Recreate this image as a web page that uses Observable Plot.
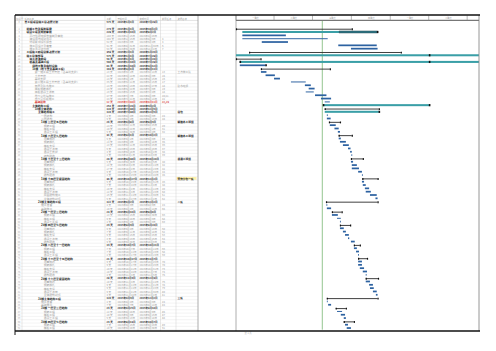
<!DOCTYPE html>
<html><head><meta charset="utf-8">
<script src="https://cdn.jsdelivr.net/npm/d3@7"></script>
<script src="https://cdn.jsdelivr.net/npm/@observablehq/plot@0.6"></script>
<style>
html,body{margin:0;padding:0;background:#fff;}
#chart{width:496px;height:351px;overflow:hidden}
</style></head><body><div id="chart"></div>
<script>
// ---------------- data ----------------
const taskNames = [
"某工程项目施工总进度计划","",
"前期工作及报批报建","项目立项及规划审批","可行性研究报告编制及审批","建设用地规划许可","环境影响评价报告","施工图设计及审查","施工许可证办理",
"工程施工阶段总体进度计划","施工总体部署","施工准备阶段","桩基及基础工程","场地平整及临时设施","1#楼（地下室及基础工程）",
"第一施工段土方开挖（含基坑支护）","土方开挖","基坑支护","第二施工段土方开挖（含基坑支护）","垫层及防水施工","底板钢筋绑扎","底板混凝土浇筑","地下室外墙施工","地下室顶板施工","基础验收",
"主体结构工程","1#楼主体结构","主体结构施工","一层结构","二层结构",
"1#楼 三层至五层结构","钢筋工程","模板工程","混凝土工程",
"1#楼 六层至九层结构","测量放线","钢筋绑扎","模板支设","混凝土浇筑","混凝土养护","结构验收",
"1#楼 十层至十三层结构","测量放线","钢筋绑扎","模板支设","混凝土浇筑","结构验收",
"1#楼 十四层至屋面结构","测量放线","钢筋绑扎","模板支设","混凝土浇筑","屋面结构施工","主体结构封顶",
"2#楼主体结构工程","施工准备","基础施工",
"2#楼 一层至三层结构","钢筋工程","模板工程","混凝土工程",
"2#楼 四层至七层结构","测量放线","钢筋绑扎","模板支设","混凝土浇筑","结构验收",
"2#楼 八层至十一层结构","钢筋工程","模板工程","混凝土工程",
"2#楼 十二层至十五层结构","测量放线","钢筋绑扎","模板支设","混凝土浇筑","结构验收",
"2#楼 十六层至屋面结构","测量放线","钢筋绑扎","模板支设","混凝土浇筑","主体结构封顶",
"3#楼主体结构工程","施工准备","基础施工",
"3#楼 一层至三层结构","钢筋工程","模板工程","混凝土工程",
"3#楼 四层至七层结构","钢筋工程","模板工程"
];
const taskLevels = [
0,0, 1,1,2,2,2,2,2, 1,1,2,2,3,3, 4,4,4,4,4,4,4,4,4,4, 3,4,5,6,6,
6,7,7,7, 6,7,7,7,7,7,7, 6,7,7,7,7,7, 6,7,7,7,7,7,7,
5,6,6, 6,7,7,7, 6,7,7,7,7,7, 6,7,7,7, 6,7,7,7,7,7, 6,7,7,7,7,7,
5,6,6, 6,7,7,7, 6,7,7
];
const taskTypes = [
"","", "summary","teal","task","thin","task","task","task",
"summary","teal","summary","teal","task","summary",
"task","task","task","thin","task","task","thin","task","task","thin",
"teal","summary","teal","task","task",
"summary","task","task","task",
"summary","task","task","task","task","task","task",
"summary","task","task","task","task","task",
"summary","task","task","task","task","task","task",
"summary","task","task",
"summary","task","thin","task",
"summary","task","task","task","task","task",
"summary","task","task","task",
"summary","task","task","task","task","task",
"summary","task","task","task","task","task",
"summary","task","task",
"summary","thin","task","task",
"summary","task","task"
];
const taskStarts = [
"","", "2015-01-01","2015-01-16","2015-01-16","2015-01-16","2015-03-03","2015-08-31","2015-09-30",
"2015-02-01","2015-01-01","2015-01-01","2015-01-10","2015-01-10","2015-03-01",
"2015-03-01","2015-03-12","2015-04-01","2015-05-11","2015-06-13","2015-06-22","2015-06-15","2015-07-07","2015-07-21","2015-07-30",
"2015-07-26","2015-07-30","2015-07-30","2015-08-04","2015-08-04",
"2015-08-09","2015-08-11","2015-08-22","2015-08-30",
"2015-09-01","2015-09-01","2015-09-04","2015-09-11","2015-09-23","2015-09-28","2015-10-01",
"2015-09-30","2015-09-30","2015-10-02","2015-10-02","2015-10-17","2015-10-26",
"2015-10-27","2015-10-26","2015-10-28","2015-11-02","2015-11-04","2015-11-14","2015-11-27",
"2015-08-02","2015-08-03","2015-08-04",
"2015-08-16","2015-08-16","2015-08-28","2015-09-04",
"2015-09-04","2015-09-04","2015-09-11","2015-09-16","2015-09-23","2015-09-30",
"2015-10-07","2015-10-07","2015-10-12","2015-10-17",
"2015-10-17","2015-10-17","2015-10-17","2015-10-21","2015-10-28","2015-11-04",
"2015-11-04","2015-11-04","2015-11-12","2015-11-14","2015-11-21","2015-11-28",
"2015-08-04","2015-08-04","2015-08-07",
"2015-08-25","2015-08-28","2015-09-06","2015-09-13",
"2015-09-13","2015-09-16","2015-09-20"
];
const taskEnds = [
"","", "2015-10-02","2015-09-02","2015-04-29","2015-08-06","2015-05-04","2015-11-30","2015-12-02",
"2016-01-26","2016-07-29","2015-02-28","2016-07-29","2015-03-12","2015-08-11",
"2015-03-14","2015-04-03","2015-04-15","2015-06-15","2015-06-27","2015-07-06","2015-07-04","2015-08-03","2015-08-14","2015-08-11",
"2016-04-02","2015-12-05","2015-12-05","2015-08-06","2015-08-13",
"2015-09-04","2015-08-25","2015-09-01","2015-09-04",
"2015-10-02","2015-09-06","2015-09-18","2015-09-25","2015-09-29","2015-10-02","2015-10-03",
"2015-10-28","2015-10-05","2015-10-14","2015-10-19","2015-10-26","2015-10-28",
"2015-12-02","2015-10-31","2015-11-04","2015-11-12","2015-11-16","2015-11-30","2015-12-02",
"2015-12-02","2015-08-05","2015-08-14",
"2015-09-08","2015-08-30","2015-09-06","2015-09-06",
"2015-09-28","2015-09-13","2015-09-18","2015-09-25","2015-09-26","2015-10-09",
"2015-10-21","2015-10-14","2015-10-19","2015-10-19",
"2015-11-07","2015-10-26","2015-10-26","2015-10-31","2015-11-07","2015-11-06",
"2015-12-03","2015-11-14","2015-11-21","2015-11-23","2015-11-30","2015-12-02",
"2015-12-02","2015-08-06","2015-08-14",
"2015-09-18","2015-09-09","2015-09-16","2015-09-18",
"2015-10-07","2015-09-23","2015-09-30"
];
const predecessors = [
"","","","","","4","4","6","7","","","","","","",
"13","15","16","17","18","19","18","20,21","22","22,23",
"","","","24","28","","29","31","32","","33","35","36","37","38","39",
"","40","42","42","44","45","","46","48","49","50","51","52",
"","24","55","","56","58","59","","60","62","63","64","65",
"","66","68","69","","70","70","73","74","75","","76","78","79","80","81",
"","24","84","","85","87","88","","89","91"
];
const resourceRows = [15,19,27,30,34,41,47,54,83];
const resourceNames = ["土方施工队","防水班组","总包","钢筋木工班组","钢筋木工班组","混凝土班组","劳务分包一队","二队","三队"];
const boldRows = [0,2,3,9,10,11,12,13,14,25,26,27,30,34,41,47,54,57,61,67,71,77,83,86,90];
const redRows = [24];
const highlightRows = [47];
const capRows  = [3,10,12,12,13,25,25,27];
const capDates = ["2015-12-01","2016-04-02","2015-01-10","2016-04-02","2015-03-12","2015-07-26","2016-04-02","2015-12-05"];
const delayRows = [3];
const delayStarts = ["2015-09-02"];
const delayEnds = ["2015-12-01"];
const statusDate = "2015-07-23";
const quarterTicks = ["2015-01-01","2015-04-01","2015-07-01","2015-10-01","2016-01-01","2016-04-01","2016-07-01"];
const quarterLabels = ["一季度","二季度","三季度","四季度","一季度","二季度"];
const columnHeaders = ["标识号","任务名称","工期","开始时间","完成时间","前置任务","资源名称"];
const timeDomain = ["2015-01-01","2016-07-29"];

// ---------------- layout ----------------
const W = 496, H = 351;
const FRAME_TOP = 15, FRAME_BOTTOM = 331, FRAME_LEFT = 15, FRAME_RIGHT = 480;
const G0 = 236, G1 = 479;
const MT = 20.4, MB = H - 329.7;
const COLS = [15, 22, 105, 116, 138, 160.5, 176, 198, 236];
const TEXT_X = {id: 18.5, dur: 106, start: 117, finish: 139, pred: 161.5, res: 177};
const HEAD_X = [15.8, 24, 106, 117, 139, 161.5, 177];
const indentX = [24, 26, 29, 31.7, 34.2, 37.5, 40.5, 43.2];

const parse = d3.utcParse("%Y-%m-%d");
const fmt = d3.utcFormat("%Y年%-m月%-d日");

const rows = taskNames.map((name, i) => ({
  id: i, name, level: taskLevels[i], type: taskTypes[i],
  start: taskStarts[i] ? parse(taskStarts[i]) : null,
  end: taskEnds[i] ? parse(taskEnds[i]) : null,
  pred: predecessors[i] || "",
  res: resourceRows.includes(i) ? resourceNames[resourceRows.indexOf(i)] : ""
}));
const dated = rows.filter(r => r.start);
rows[0].start = d3.min(dated, r => r.start);
rows[0].end = d3.max(dated, r => r.end);
rows.forEach(r => {
  r.red = redRows.includes(r.id);
  r.bold = boldRows.includes(r.id) || r.red;
  r.color = r.red ? "#d42f2a" : r.bold ? "#151515" : "#9c9c9c";
  r.dur = r.start ? Math.round((r.end - r.start) / 864e5) + " 天" : "";
  r.s = r.start ? fmt(r.start) : "";
  r.f = r.end ? fmt(r.end) : "";
  r.idText = r.id === 1 ? "" : String(r.id);
});

const summ = rows.filter(r => r.type === "summary");
const summEnds = summ.flatMap(r => [{id: r.id, x: r.start}, {id: r.id, x: r.end}]);
const caps = capRows.map((id, i) => ({id, x: parse(capDates[i])}));
const delays = delayRows.map((id, i) => ({id, start: parse(delayStarts[i]), end: parse(delayEnds[i])}));
const qTicks = quarterTicks.map(parse);
const qMids = quarterLabels.map((label, i) => ({label, x: new Date((+qTicks[i] + +qTicks[i + 1]) / 2)}));

const step = (H - MT - MB) / rows.length;
const marks = [];
marks.push(Plot.ruleX([parse(statusDate)], {stroke: "#93c58f", strokeWidth: 1}));
marks.push(Plot.barX(rows.filter(r => r.type === "teal"), {x1: "start", x2: "end", y: "id", fill: "#3a9fa7", insetTop: 0.6, insetBottom: 0.7}));
marks.push(Plot.barX(delays, {x1: "start", x2: "end", y: "id", fill: "#2f7584", stroke: "#1c3f4a", strokeWidth: 0.4, insetTop: 0.6, insetBottom: 0.7}));
marks.push(Plot.barX(rows.filter(r => r.type === "task"), {x1: "start", x2: "end", y: "id", fill: "#2d62a1", insetTop: 0.8, insetBottom: 0.8}));
marks.push(Plot.barX(rows.filter(r => r.type === "thin"), {x1: "start", x2: "end", y: "id", fill: "#2d62a1", insetTop: 1.2, insetBottom: 1.15}));
marks.push(Plot.ruleY(summ, {y: "id", x1: "start", x2: "end", stroke: "#2a2a2a", strokeWidth: 0.9}));
marks.push(Plot.tickX(summEnds, {x: "x", y: "id", stroke: "#111", strokeWidth: 1.2, insetTop: step / 2 - 0.35, insetBottom: 0.15}));
marks.push(Plot.tickX(caps, {x: "x", y: "id", stroke: "#111", strokeWidth: 1.6, insetTop: 0.5, insetBottom: 0.6}));

// table text
const FS = 2.8;
for (const bold of [true, false]) {
  const w = bold ? 700 : 400;
  for (let l = 0; l < indentX.length; l++) {
    const d = rows.filter(r => r.level === l && r.bold === bold && r.name);
    if (d.length) marks.push(Plot.text(d, {y: "id", text: "name", frameAnchor: "left", textAnchor: "start", dx: indentX[l] - G0, fontSize: FS, fontWeight: w, fill: "color"}));
  }
  const sub = rows.filter(r => r.bold === bold);
  marks.push(Plot.text(sub, {y: "id", text: "dur", frameAnchor: "left", textAnchor: "start", dx: TEXT_X.dur - G0, fontSize: 2.6, fontWeight: w, fill: "color"}));
  marks.push(Plot.text(sub, {y: "id", text: "s", frameAnchor: "left", textAnchor: "start", dx: TEXT_X.start - G0, fontSize: 2.55, fontWeight: w, fill: "color"}));
  marks.push(Plot.text(sub, {y: "id", text: "f", frameAnchor: "left", textAnchor: "start", dx: TEXT_X.finish - G0, fontSize: 2.55, fontWeight: w, fill: "color"}));
  marks.push(Plot.text(sub, {y: "id", text: "pred", frameAnchor: "left", textAnchor: "start", dx: TEXT_X.pred - G0, fontSize: 2.6, fontWeight: w, fill: "color"}));
  marks.push(Plot.text(sub, {y: "id", text: "res", frameAnchor: "left", textAnchor: "start", dx: TEXT_X.res - G0, fontSize: 2.7, fontWeight: w, fill: "color"}));
}
marks.push(Plot.text(rows, {y: "id", text: "idText", frameAnchor: "left", textAnchor: "middle", dx: TEXT_X.id - G0, fontSize: 2.2, fill: "#aaa"}));
columnHeaders.forEach((h, i) => marks.push(Plot.text([h], {text: d => d, frameAnchor: "top-left", textAnchor: "start", dx: HEAD_X[i] - G0, dy: -2.8, fontSize: 2.3, fill: "#999"})));
marks.push(Plot.text(qMids, {x: "x", text: "label", frameAnchor: "top", dy: -3.2, fontSize: 2.2, fill: "#999"}));
marks.push(Plot.text(["第 1 页"], {text: d => d, frameAnchor: "bottom-left", textAnchor: "start", dx: 244 - G0, dy: 3.6, fontSize: 2.4, fill: "#aaa"}));

const chart = Plot.plot({
  width: W, height: H,
  marginLeft: G0, marginRight: W - G1, marginTop: MT, marginBottom: MB,
  x: {type: "utc", domain: timeDomain.map(parse), axis: null},
  y: {type: "band", domain: rows.map(r => r.id), padding: 0, axis: null},
  color: {type: "identity"},
  style: {fontFamily: "'Noto Sans CJK SC','Noto Sans',sans-serif", background: "#fff"},
  marks
});
document.getElementById("chart").appendChild(chart);

// ---------------- table grid & frame ----------------
const svg = d3.select(chart);
const xs = chart.scale("x"), ys = chart.scale("y");
const under = svg.insert("g", "g");
highlightRows.forEach(id => {
  under.append("rect").attr("x", TEXT_X.res - 0.5).attr("y", ys.apply(id) + 0.2)
    .attr("width", 20).attr("height", step - 0.4).attr("fill", "#fff1a6");
});
for (let i = 0; i <= rows.length; i++) {
  const y = MT + i * step;
  under.append("line").attr("x1", FRAME_LEFT).attr("x2", COLS[7]).attr("y1", y).attr("y2", y)
    .attr("stroke", i === 0 ? "#bbb" : "#e4e4e4").attr("stroke-width", 0.45);
}
COLS.forEach((x, i) => {
  under.append("line").attr("x1", x).attr("x2", x).attr("y1", FRAME_TOP).attr("y2", FRAME_BOTTOM)
    .attr("stroke", i >= 7 ? "#9a9a9a" : "#d0d0d0").attr("stroke-width", i >= 7 ? 0.8 : 0.5);
});
const over = svg.append("g");
over.append("line").attr("x1", G1).attr("x2", G1).attr("y1", FRAME_TOP).attr("y2", FRAME_BOTTOM).attr("stroke", "#8a8a8a").attr("stroke-width", 0.9);
over.append("line").attr("x1", G0).attr("x2", G1).attr("y1", MT).attr("y2", MT).attr("stroke", "#777").attr("stroke-width", 1.1);
qTicks.forEach(d => {
  const x = xs.apply(d);
  over.append("line").attr("x1", x).attr("x2", x).attr("y1", FRAME_TOP + 0.5).attr("y2", MT).attr("stroke", "#888").attr("stroke-width", 0.6);
});
over.append("line").attr("x1", FRAME_LEFT).attr("x2", FRAME_RIGHT).attr("y1", FRAME_TOP).attr("y2", FRAME_TOP).attr("stroke", "#111").attr("stroke-width", 1.3);
over.append("line").attr("x1", FRAME_LEFT).attr("x2", FRAME_RIGHT).attr("y1", FRAME_BOTTOM).attr("y2", FRAME_BOTTOM).attr("stroke", "#111").attr("stroke-width", 1.3);
over.append("line").attr("x1", FRAME_LEFT).attr("x2", FRAME_LEFT).attr("y1", FRAME_TOP).attr("y2", FRAME_BOTTOM + 4).attr("stroke", "#111").attr("stroke-width", 1);
</script></body></html>
